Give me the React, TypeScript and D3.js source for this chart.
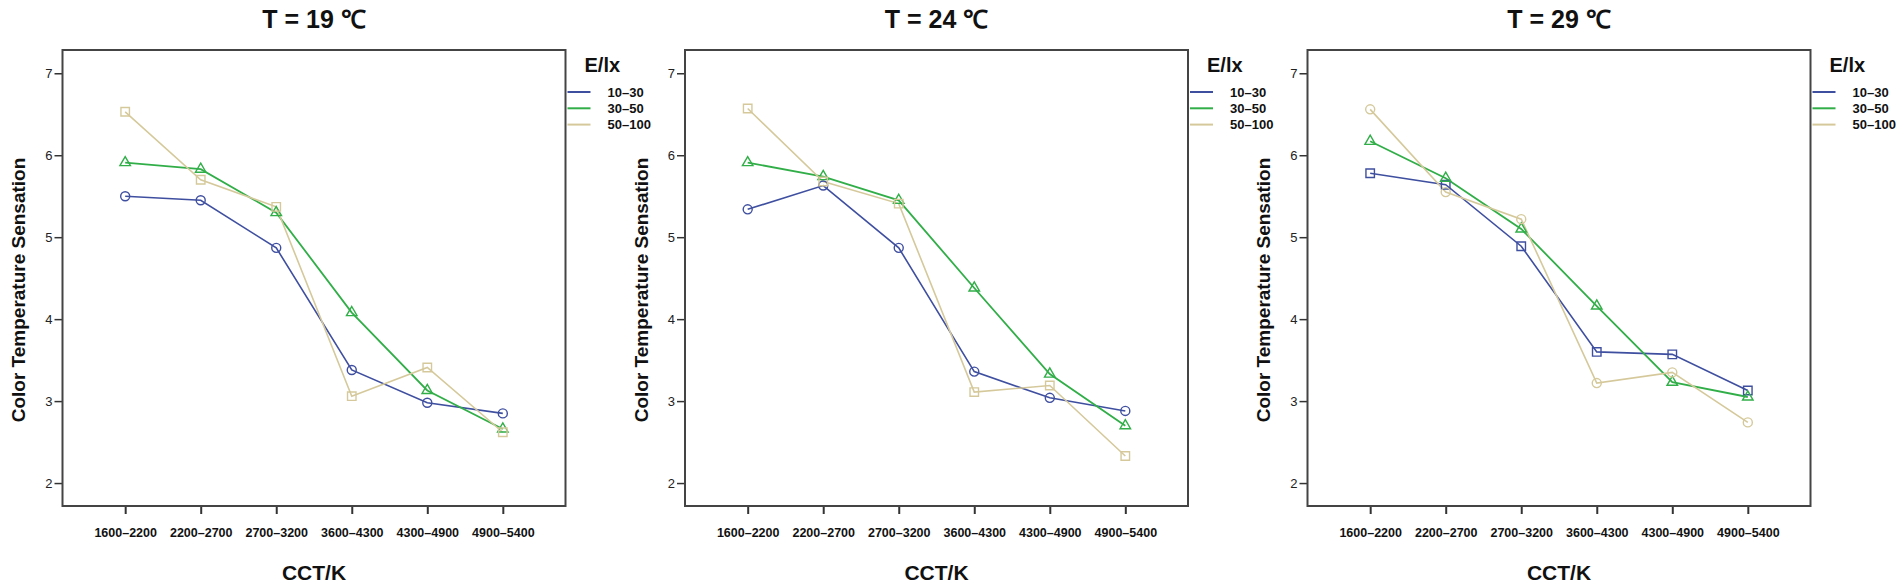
import { useRef, useEffect } from "react";
import {
  select,
  scalePoint,
  scaleLinear,
  axisLeft,
  axisBottom,
  line,
  symbol,
  symbolCircle,
  symbolSquare,
  symbolTriangle,
  format,
} from "d3";

const categories = [
  "1600–2200",
  "2200–2700",
  "2700–3200",
  "3600–4300",
  "4300–4900",
  "4900–5400",
];
const seriesNames = ["10–30", "30–50", "50–100"];
const titles = ["T = 19 ℃", "T = 24 ℃", "T = 29 ℃"];
const yTicks = [2, 3, 4, 5, 6, 7];

// T = 19
const t19Low = [5.5, 5.45, 4.87, 3.38, 2.98, 2.85];
const t19Mid = [5.91, 5.83, 5.3, 4.08, 3.13, 2.66];
const t19High = [6.53, 5.7, 5.37, 3.06, 3.41, 2.62];
// T = 24
const t24Low = [5.34, 5.63, 4.87, 3.36, 3.04, 2.88];
const t24Mid = [5.91, 5.74, 5.45, 4.38, 3.33, 2.7];
const t24High = [6.57, 5.68, 5.41, 3.11, 3.19, 2.33];
// T = 29
const t29Low = [5.78, 5.64, 4.89, 3.6, 3.57, 3.13];
const t29Mid = [6.17, 5.72, 5.1, 4.16, 3.23, 3.05];
const t29High = [6.56, 5.55, 5.22, 3.22, 3.35, 2.74];

const panelValues = [
  [t19Low, t19Mid, t19High],
  [t24Low, t24Mid, t24High],
  [t29Low, t29Mid, t29High],
];
const panelMarkers = [
  ["circle", "triangle", "square"],
  ["circle", "triangle", "square"],
  ["square", "triangle", "circle"],
];

const colors = ["#3f4fa0", "#31ae48", "#d5c99b"];
const lineWidths = [1.6, 1.8, 1.6];

const W = 1902;
const H = 587;
const FONT = "'Liberation Sans', Arial, sans-serif";

function markerPath(kind: string) {
  if (kind === "circle") return symbol().type(symbolCircle).size(64)();
  if (kind === "square") return symbol().type(symbolSquare).size(72)();
  return symbol().type(symbolTriangle).size(48)();
}

export default function App() {
  const ref = useRef<SVGSVGElement | null>(null);

  useEffect(() => {
    const svg = select(ref.current!);
    svg.selectAll("*").remove();

    svg.append("rect").attr("width", W).attr("height", H).attr("fill", "#fff");

    const frameW = 503;
    const top = 50;
    const bottom = 506;

    panelValues.forEach((values, p) => {
      const left = 62.5 + p * 622.5;
      const right = left + frameW;
      const g = svg.append("g");

      //scales
      const x = scalePoint<string>()
        .domain(categories)
        .range([left, right])
        .padding(0.83);
      const y = scaleLinear().domain([1.72, 7.284]).range([bottom, top]);

      //title
      g.append("text")
        .attr("x", (left + right) / 2)
        .attr("y", 28)
        .attr("text-anchor", "middle")
        .attr("font-family", FONT)
        .attr("font-weight", "bold")
        .attr("font-size", 25)
        .attr("fill", "#111")
        .text(titles[p]);

      //axes
      const yAxis: any = axisLeft(y)
        .tickValues(yTicks)
        .tickFormat(format("d"))
        .tickSize(8)
        .tickPadding(2);
      const ya = g
        .append("g")
        .attr("transform", `translate(${left},0)`)
        .call(yAxis);
      ya.select(".domain").remove();
      ya.selectAll(".tick line").attr("stroke", "#333").attr("stroke-width", 1.5);
      ya.selectAll(".tick text")
        .attr("font-family", FONT)
        .attr("font-size", 13)
        .attr("fill", "#222");

      const xAxis: any = axisBottom(x).tickSize(8).tickPadding(14);
      const xa = g
        .append("g")
        .attr("transform", `translate(0,${bottom})`)
        .call(xAxis);
      xa.select(".domain").remove();
      xa.selectAll(".tick line").attr("stroke", "#333").attr("stroke-width", 2);
      xa.selectAll(".tick text")
        .attr("font-family", FONT)
        .attr("font-weight", "bold")
        .attr("font-size", 12.5)
        .attr("fill", "#111");

      //frame
      g.append("rect")
        .attr("x", left)
        .attr("y", top)
        .attr("width", frameW)
        .attr("height", bottom - top)
        .attr("fill", "none")
        .attr("stroke", "#444")
        .attr("stroke-width", 2);

      //axis titles
      g.append("text")
        .attr("x", (left + right) / 2)
        .attr("y", 580)
        .attr("text-anchor", "middle")
        .attr("font-family", FONT)
        .attr("font-weight", "bold")
        .attr("font-size", 21)
        .attr("fill", "#111")
        .text("CCT/K");

      g.append("text")
        .attr("transform", `translate(${left - 44},290) rotate(-90)`)
        .attr("text-anchor", "middle")
        .attr("dominant-baseline", "central")
        .attr("font-family", FONT)
        .attr("font-weight", "bold")
        .attr("font-size", 19)
        .attr("fill", "#111")
        .text("Color Temperature Sensation");

      //series
      const myLine: any = line<number>()
        .x((d, i) => x(categories[i])!)
        .y((d) => y(d));

      values.forEach((vals, s) => {
        g.append("path")
          .attr("d", myLine(vals))
          .attr("fill", "none")
          .attr("stroke", colors[s])
          .attr("stroke-width", lineWidths[s]);
      });
      values.forEach((vals, s) => {
        g.selectAll(null)
          .data(vals)
          .join("path")
          .attr("d", markerPath(panelMarkers[p][s]))
          .attr("transform", (d, i) => `translate(${x(categories[i])},${y(d)})`)
          .attr("fill", "none")
          .attr("stroke", colors[s])
          .attr("stroke-width", 1.4);
      });

      //legend
      g.append("text")
        .attr("x", right + 19)
        .attr("y", 72)
        .attr("font-family", FONT)
        .attr("font-weight", "bold")
        .attr("font-size", 20)
        .attr("fill", "#111")
        .text("E/lx");

      seriesNames.forEach((name, s) => {
        const ly = 92 + s * 16.3;
        g.append("line")
          .attr("x1", right + 2)
          .attr("x2", right + 25)
          .attr("y1", ly)
          .attr("y2", ly)
          .attr("stroke", colors[s])
          .attr("stroke-width", 2);
        g.append("text")
          .attr("x", right + 42)
          .attr("y", ly)
          .attr("dominant-baseline", "central")
          .attr("font-family", FONT)
          .attr("font-weight", "bold")
          .attr("font-size", 13)
          .attr("fill", "#111")
          .text(name);
      });
    });
  }, []);

  return (
    <svg
      ref={ref}
      width={W}
      height={H}
      style={{ position: "absolute", left: 0, top: 0, display: "block" }}
    ></svg>
  );
}
